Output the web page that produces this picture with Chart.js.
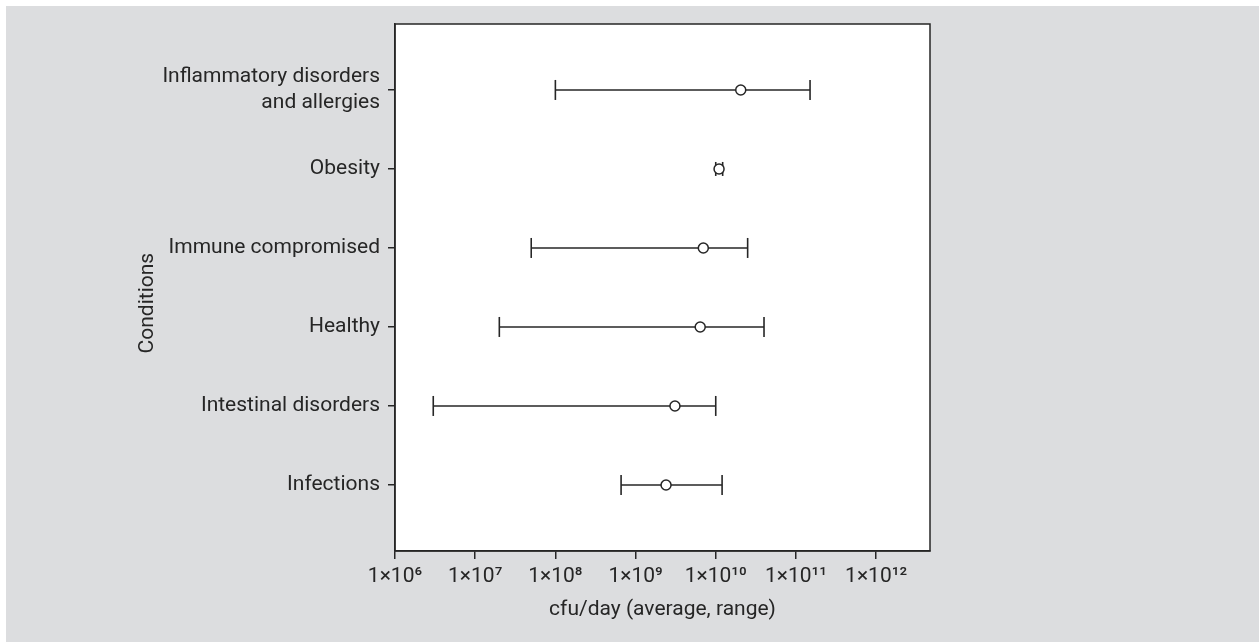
<!DOCTYPE html>
<html>
<head>
<meta charset="utf-8">
<script src="https://cdn.jsdelivr.net/npm/chart.js@4/dist/chart.umd.min.js"></script>
<style>
  html, body { margin: 0; padding: 0; background: #ffffff; }
  #wrap { width: 1259px; height: 642px; position: relative; }
</style>
</head>
<body>
<div id="wrap"><canvas id="c"></canvas></div>
<script>
// ---- data (top to bottom order) ----
const categories = [
  ['Inflammatory disorders', 'and allergies'],
  'Obesity',
  'Immune compromised',
  'Healthy',
  'Intestinal disorders',
  'Infections'
];
const averages = [2.05e10, 1.1e10, 7.0e9, 6.4e9, 3.1e9, 2.4e9];
const rangeLow  = [1.0e8, 1.0e10, 5.0e7, 2.0e7, 3.0e6, 6.6e8];
const rangeHigh = [1.5e11, 1.22e10, 2.5e10, 4.0e10, 1.0e10, 1.2e10];
const tickValues = [1e6, 1e7, 1e8, 1e9, 1e10, 1e11, 1e12];
const tickLabels = ['1×10⁶', '1×10⁷', '1×10⁸', '1×10⁹', '1×10¹⁰', '1×10¹¹', '1×10¹²'];
const xTitle = 'cfu/day (average, range)';
const yTitle = 'Conditions';

const FONT = "Roboto, 'Liberation Sans', Arial, sans-serif";
const INK = '#262626';

const rangeDatasets = categories.map((c, i) => ({
  type: 'line',
  data: [{ x: rangeLow[i], y: i }, { x: rangeHigh[i], y: i }],
  borderColor: INK,
  borderWidth: 1.6,
  showLine: true,
  pointStyle: 'line',
  rotation: 90,
  pointRadius: i === 1 ? 7 : 10,
  pointBorderColor: INK,
  pointBorderWidth: 1.6,
  pointHoverRadius: 0,
  fill: false
}));

const meanDataset = {
  type: 'scatter',
  data: averages.map((v, i) => ({ x: v, y: i })),
  pointStyle: 'circle',
  pointRadius: 5,
  pointBackgroundColor: '#ffffff',
  pointBorderColor: INK,
  pointBorderWidth: 1.5
};

const framePlugin = {
  id: 'frame',
  beforeDraw(chart) {
    const ctx = chart.ctx;
    const a = chart.chartArea;
    ctx.save();
    ctx.fillStyle = '#dcdddf';
    ctx.fillRect(6, 6, chart.width - 6, chart.height - 6);
    ctx.fillStyle = '#ffffff';
    ctx.fillRect(a.left, a.top, a.right - a.left, a.bottom - a.top);
    ctx.restore();
  },
  afterDraw(chart) {
    const ctx = chart.ctx;
    const a = chart.chartArea;
    ctx.save();
    ctx.strokeStyle = INK;
    ctx.lineWidth = 1.5;
    ctx.strokeRect(a.left, a.top, a.right - a.left, a.bottom - a.top);
    ctx.restore();
  }
};

new Chart(document.getElementById('c'), {
  type: 'scatter',
  data: { datasets: [meanDataset, ...rangeDatasets] },
  plugins: [framePlugin],
  options: {
    responsive: true,
    maintainAspectRatio: false,
    animation: false,
    events: [],
    layout: { padding: { left: 128, top: 24, right: 329, bottom: 0 } },
    plugins: { legend: { display: false }, tooltip: { enabled: false } },
    scales: {
      x: {
        type: 'logarithmic',
        position: 'bottom',
        min: 1e6,
        max: 4.7e12,
        afterBuildTicks(scale) { scale.ticks = tickValues.map(v => ({ value: v })); },
        afterFit(scale) { scale.height = 91; },
        grid: { drawOnChartArea: false, drawTicks: true, tickLength: 8, color: INK, lineWidth: 1.5 },
        border: { display: true, color: INK, width: 1.5 },
        ticks: {
          padding: 5,
          color: INK,
          font: { family: FONT, size: 21 },
          maxRotation: 0,
          autoSkip: false,
          callback(v) { const k = tickValues.indexOf(v); return k >= 0 ? tickLabels[k] : ''; }
        },
        title: {
          display: true,
          text: xTitle,
          color: INK,
          font: { family: FONT, size: 21, lineHeight: 1.2 },
          padding: { top: 0, bottom: 20 }
        }
      },
      y: {
        type: 'linear',
        reverse: true,
        min: -0.835,
        max: 5.836,
        afterBuildTicks(scale) { scale.ticks = categories.map((c, i) => ({ value: i })); },
        afterFit(scale) { scale.width = 395 - 128; },
        grid: { drawOnChartArea: false, drawTicks: true, tickLength: 7, color: INK, lineWidth: 1.5 },
        border: { display: true, color: INK, width: 1.5 },
        ticks: {
          padding: 8,
          color: INK,
          font: { family: FONT, size: 21, lineHeight: 1.24 },
          autoSkip: false,
          callback(v) { return categories[v]; }
        },
        title: {
          display: true,
          text: yTitle + '      ',
          color: INK,
          font: { family: FONT, size: 21, lineHeight: 1.2 },
          padding: { top: 7, bottom: 0 }
        }
      }
    }
  }
});
</script>
</body>
</html>
